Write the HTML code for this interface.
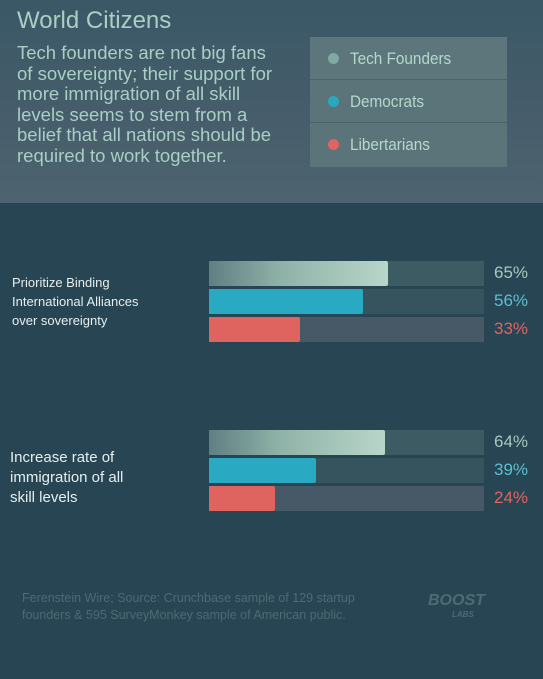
<!DOCTYPE html>
<html><head><meta charset="utf-8"><style>
body{margin:0;width:543px;height:679px;overflow:hidden;font-family:"Liberation Sans",sans-serif;background:#274552;}
#hdr{position:absolute;left:0;top:0;width:543px;height:203px;background:linear-gradient(180deg,#3a5866 0%,#475d6b 60%,#4d6470 100%);}
.t{position:absolute;color:#a9cfc4;}
</style></head><body>
<div id="hdr"></div>
<div class="t" style="left:17px;top:7px;font-size:24px;">World Citizens</div>
<div class="t" style="left:17px;top:43px;font-size:18.5px;line-height:20.5px;white-space:nowrap;">Tech founders are not big fans<br>of sovereignty; their support for<br>more immigration of all skill<br>levels seems to stem from a<br>belief that all nations should be<br>required to work together.</div>
<div style="position:absolute;left:310px;top:37px;width:197px;height:130px;background:#5a7479;">
 <div style="height:42px;border-bottom:1px solid #4a6268;position:relative;background:#5d767b"><span style="position:absolute;left:18px;top:16px;width:11px;height:11px;border-radius:50%;background:#7fa9a2"></span><span class="t" style="left:40px;top:12px;font-size:17px;color:#b5d8cc;transform:scaleX(.9);transform-origin:left">Tech Founders</span></div>
 <div style="height:42px;border-bottom:1px solid #4a6268;position:relative"><span style="position:absolute;left:18px;top:16px;width:11px;height:11px;border-radius:50%;background:#27a9c0"></span><span class="t" style="left:40px;top:12px;font-size:17px;color:#b5d8cc;transform:scaleX(.9);transform-origin:left">Democrats</span></div>
 <div style="height:44px;position:relative"><span style="position:absolute;left:18px;top:16px;width:11px;height:11px;border-radius:50%;background:#e06461"></span><span class="t" style="left:40px;top:12px;font-size:17px;color:#b5d8cc;transform:scaleX(.9);transform-origin:left">Libertarians</span></div>
</div>
<div class="t" style="left:12px;top:273px;font-size:13px;line-height:19px;color:#e6eeee">Prioritize Binding<br>International Alliances<br>over sovereignty</div>
<div class="t" style="left:10px;top:448px;font-size:15px;line-height:20px;color:#e6eeee">Increase rate of<br>immigration of all<br>skill levels</div>
<div id="bars"></div>
<div class="t" style="left:22px;top:590px;font-size:12.5px;line-height:17px;color:#4e6a74">Ferenstein Wire; Source: Crunchbase sample of 129 startup<br>founders &amp; 595 SurveyMonkey sample of American public.</div>
<div class="t" style="left:428px;top:592px;font-size:16px;font-weight:bold;font-style:italic;color:#4e6a74">BOOST<div style="font-size:8px;margin-left:24px">LABS</div></div>
<script>
const questions=["Prioritize Binding International Alliances","Increase rate of immigration"];
const techFounders=[65,64];
const democrats=[56,39];
const libertarians=[33,24];
const series=[techFounders,democrats,libertarians];
const names=["tech","dem","lib"];
const fills=["linear-gradient(90deg,#5f7f82,#8fb2a8 40%,#b8d6c8)","#29aac2","#df6460"];
const tracks=["#3c5b63","#35545e","#475867"];
const labelCol=["#a9c7bf","#5bc0d3","#e06461"];
const groupTop=[261,430];
const x0=209,tw=275,bh=25,gap=28;
const c=document.getElementById('bars');
function xs(v){return v/100*tw;}
questions.forEach((q,g)=>{series.forEach((s,i)=>{
 const y=groupTop[g]+i*gap;
 const tr=document.createElement('div');
 
 
 tr.style.cssText=`position:absolute;left:${x0}px;top:${y}px;width:${tw}px;height:${bh}px;background:${tracks[i]}`;
 c.appendChild(tr);
 const b=document.createElement('div');
 
 
 b.style.cssText=`position:absolute;left:${x0}px;top:${y}px;width:${xs(s[g])}px;height:${bh}px;background:${fills[i]};border-radius:0 2px 2px 0`;
 c.appendChild(b);
 const l=document.createElement('div');
 
 
 l.className='t';
 l.textContent=s[g]+'%';
 l.style.cssText=`left:494px;top:${y+2}px;font-size:17px;color:${labelCol[i]}`;
 c.appendChild(l);
});});
</script>
</body></html>
